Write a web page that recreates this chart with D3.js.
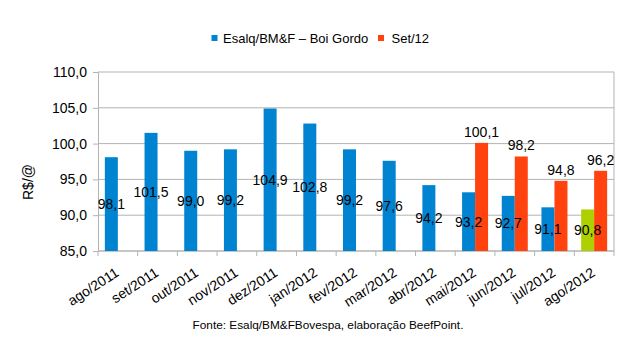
<!DOCTYPE html>
<html><head><meta charset="utf-8">
<script src="https://cdn.jsdelivr.net/npm/d3@7"></script>
<style>body{margin:0;background:#fff}svg{display:block}text{font-family:"Liberation Sans",Arial,sans-serif;fill:#000}</style>
</head><body><svg id="c" width="641" height="352"></svg>
<script>
const categories = ["ago/2011","set/2011","out/2011","nov/2011","dez/2011","jan/2012","fev/2012","mar/2012","abr/2012","mai/2012","jun/2012","jul/2012","ago/2012"];
const esalq = [98.1,101.5,99.0,99.2,104.9,102.8,99.2,97.6,94.2,93.2,92.7,91.1,90.8];
const set12 = [null,null,null,null,null,null,null,null,null,100.1,98.2,94.8,96.2];
const highlight = ["ago/2012"];
const seriesNames = ["Esalq/BM&F – Boi Gordo","Set/12"];
const yTicks = [85,90,95,100,105,110];

const svg = d3.select("#c");
const L=98,R=614,T=72,B=251;
const x = d3.scaleBand().domain(categories).range([L,R]).padding(0);
const y = d3.scaleLinear().domain([85,110]).range([B,T]);
const bw = x.bandwidth()*0.3275;
const fmt = v => d3.format(".1f")(v).replace(".",",");
const grid="#b3b3b3";
const blue="#0084d1", red="#ff420e", green="#aecf00";

// gridlines
svg.append("g").selectAll("line").data(yTicks).join("line")
 .attr("x1",L).attr("x2",R).attr("y1",d=>y(d)).attr("y2",d=>y(d)).attr("stroke",grid);
// right border
svg.append("line").attr("x1",R).attr("x2",R).attr("y1",T).attr("y2",B).attr("stroke",grid);

// y axis
const ya = svg.append("g").attr("transform",`translate(${L},0)`)
 .call(d3.axisLeft(y).tickValues(yTicks).tickSize(5).tickPadding(6).tickFormat(fmt));
ya.select(".domain").attr("stroke",grid);
ya.selectAll(".tick line").attr("stroke",grid);
ya.selectAll("text").attr("font-size","14px").attr("font-family","Liberation Sans, Arial, sans-serif").attr("fill","#000");

// x axis
const xa = svg.append("g").attr("transform",`translate(0,${B})`);
xa.append("line").attr("x1",L).attr("x2",R).attr("stroke",grid);
const bounds = categories.map(c=>x(c)).concat([R]);
xa.selectAll("line.t").data(bounds).join("line").attr("class","t")
 .attr("x1",d=>d).attr("x2",d=>d).attr("y1",0).attr("y2",5).attr("stroke",grid);
xa.selectAll("text").data(categories).join("text")
 .attr("transform",d=>`translate(${x(d)+x.bandwidth()/2+2},${24}) rotate(-33)`)
 .attr("text-anchor","end").attr("font-size","14px").text(d=>d);

// bars
const bars = svg.append("g");
bars.selectAll("rect.a").data(categories).join("rect").attr("class","a")
 .attr("x",d=>x(d)+x.bandwidth()/2-bw).attr("width",bw)
 .attr("y",(d,i)=>y(esalq[i])).attr("height",(d,i)=>B-y(esalq[i]))
 .attr("fill",d=>highlight.includes(d)?green:blue);
bars.selectAll("rect.b").data(categories.filter((d,i)=>set12[i]!=null)).join("rect").attr("class","b")
 .attr("x",d=>x(d)+x.bandwidth()/2).attr("width",bw)
 .attr("y",d=>y(set12[categories.indexOf(d)])).attr("height",d=>B-y(set12[categories.indexOf(d)]))
 .attr("fill",red);

// labels
svg.append("g").selectAll("text").data(categories).join("text")
 .attr("x",d=>x(d)+x.bandwidth()/2-bw/2)
 .attr("y",(d,i)=>(y(esalq[i])+B)/2).attr("dy","0.35em")
 .attr("text-anchor","middle").attr("font-size","14px").text((d,i)=>fmt(esalq[i]));
svg.append("g").selectAll("text").data(categories.filter((d,i)=>set12[i]!=null)).join("text")
 .attr("x",d=>x(d)+x.bandwidth()/2+bw/2)
 .attr("y",d=>y(set12[categories.indexOf(d)])-6)
 .attr("text-anchor","middle").attr("font-size","14px").text(d=>fmt(set12[categories.indexOf(d)]));

// y title
svg.append("text").attr("transform","translate(33,182) rotate(-90)").attr("text-anchor","middle")
 .attr("font-size","14px").text("R$/@");

// legend
const lg = svg.append("g");
lg.append("rect").attr("x",211.5).attr("y",35).attr("width",6).attr("height",6).attr("fill",blue);
lg.append("text").attr("x",223).attr("y",42.5).attr("font-size","13px").text(seriesNames[0]);
lg.append("rect").attr("x",378).attr("y",35).attr("width",6).attr("height",6).attr("fill",red);
lg.append("text").attr("x",391.5).attr("y",42.5).attr("font-size","13px").text(seriesNames[1]);

// footnote
svg.append("text").attr("x",328).attr("y",329).attr("text-anchor","middle").attr("font-size","11.8px")
 .text("Fonte: Esalq/BM&FBovespa, elaboração BeefPoint.");
</script></body></html>
